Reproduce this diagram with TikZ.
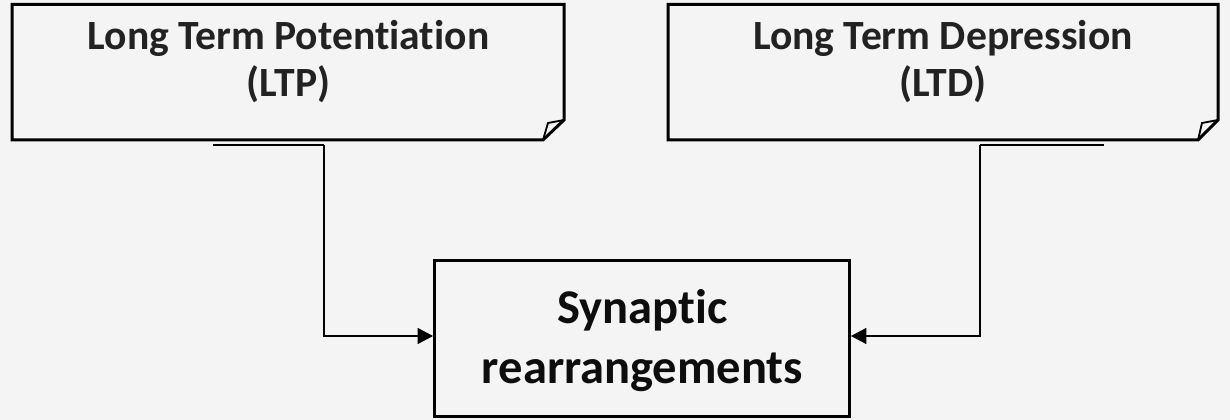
\documentclass[tikz,border=0pt]{standalone}
\usepackage{fontspec}
\setmainfont{Carlito}[Ligatures=NoCommon]
\usetikzlibrary{arrows.meta}
\definecolor{bg}{HTML}{F4F4F4}
\definecolor{txt}{HTML}{222222}
\begin{document}
\begin{tikzpicture}[x=0.75pt,y=-0.75pt,
  boxline/.style={line width=2.25pt, line join=miter, draw=black},
  foldline/.style={line width=1.4pt, line join=miter, draw=black},
  conn/.style={line width=0.85pt, draw=black, -{Triangle[length=11.5pt,width=12pt]}},
  connstart/.style={line width=0.85pt, draw=black},
  toptext/.style={font=\fontsize{31.2}{35.25}\selectfont\bfseries, text=txt, align=center, inner sep=0pt},
  bottext/.style={font=\fontsize{36.4}{45}\selectfont\bfseries, text=black!95, align=center, inner sep=0pt},
  synbox/.style={draw=black, line width=2.25pt, minimum width=311.25pt, minimum height=117pt, inner sep=0pt}]
\fill[bg] (0,0) rectangle (1230,420);
\useasboundingbox (0,0) rectangle (1230,420);
% left note
\draw[boxline] (12,4.5) -- (564,4.5) -- (564,120) -- (543,140) -- (12,140) -- cycle;
\draw[foldline] (543,140) -- (548,123) -- (564,120);
\node[toptext, anchor=base] (ltp) at (288.5,97) {Long Term Potentiation\\(LTP)};
% right note
\draw[boxline] (668,4.5) -- (1218,4.5) -- (1218,120) -- (1198,140) -- (668,140) -- cycle;
\draw[foldline] (1198,140) -- (1202,123) -- (1218,120);
\node[toptext, anchor=base] (ltd) at (943,97) {Long Term Depression\\(LTD)};
% bottom box
\node[synbox] (syn) at (642,338.5) {};
\node[bottext, anchor=base] (syntext) at (642.5,383) {Synaptic\\rearrangements};
% connectors
\coordinate (la) at (213,145);
\coordinate (lb) at (324,145);
\coordinate (ra) at (1104,145);
\coordinate (rb) at (980,145);
\draw[connstart] (la) -- (lb);
\draw[conn] (lb) |- ([yshift=1.875pt]syn.west);
\draw[connstart] (ra) -- (rb);
\draw[conn] (rb) |- ([yshift=1.875pt]syn.east);
\end{tikzpicture}
\end{document}
